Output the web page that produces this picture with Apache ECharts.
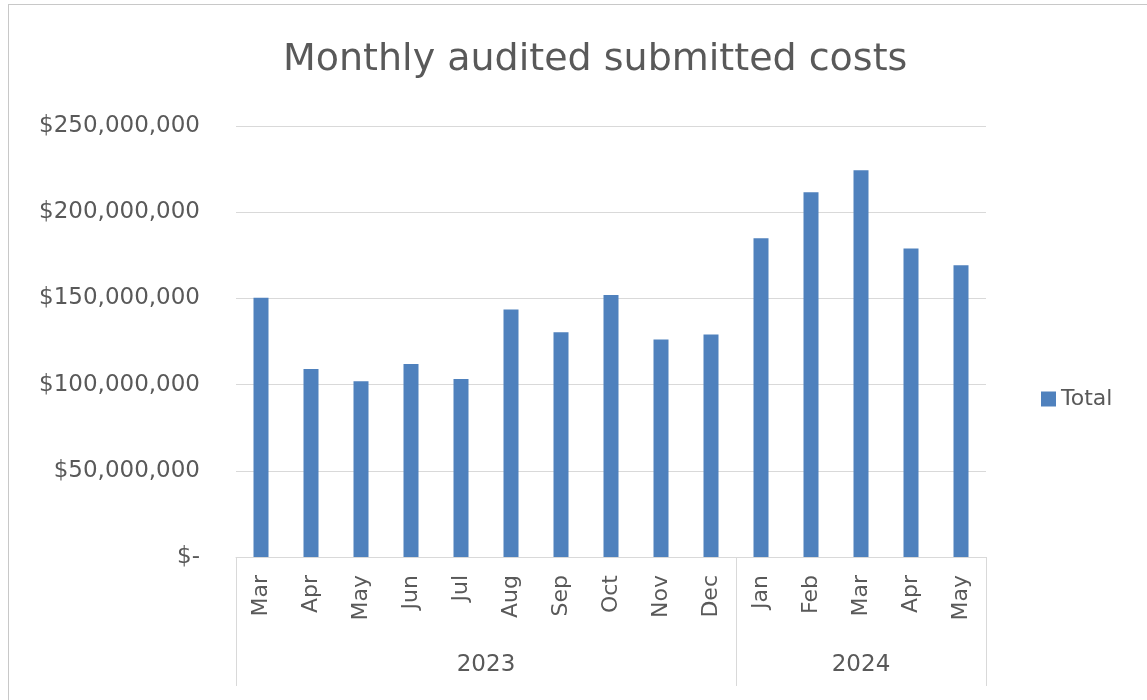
<!DOCTYPE html>
<html>
<head>
<meta charset="utf-8">
<script src="https://cdn.jsdelivr.net/npm/echarts@6/dist/echarts.min.js"></script>
<style>
  html, body { margin: 0; padding: 0; background: #fff; overflow: hidden; }
  #chart { position: absolute; left: 0; top: 0; width: 1147px; height: 700px; }
  #frame { position: absolute; left: 8px; top: 4px; width: 1160px; height: 720px;
           border: 1px solid #c8c8c8; pointer-events: none; }
</style>
</head>
<body>
<div id="chart"></div>
<div id="frame"></div>
<script>
// months per year group, values in dollars
var months = ['Mar', 'Apr', 'May', 'Jun', 'Jul', 'Aug', 'Sep', 'Oct', 'Nov', 'Dec',
              'Jan', 'Feb', 'Mar', 'Apr', 'May'];
var years = ['2023', '2024'];
var yearCounts = [10, 5];
var totals = [150400000, 109100000, 101900000, 112000000, 103300000, 143600000, 130400000,
              151900000, 126200000, 129100000, 184900000, 211600000, 224400000, 179000000, 169200000];

var textColor = '#595959';
var fontFam = 'DejaVu Sans, Liberation Sans, sans-serif';

// group boundaries and centers for the year level of the axis
var bounds = [0];
var centers = [];
yearCounts.forEach(function (n) {
    var start = bounds[bounds.length - 1];
    centers.push(start + n / 2);
    bounds.push(start + n);
});

function money(v) {
    if (v === 0) return '$-';
    return '$' + v.toString().replace(/\B(?=(\d{3})+(?!\d))/g, ',');
}

var chart = echarts.init(document.getElementById('chart'));
chart.setOption({
    animation: false,
    title: {
        text: 'Monthly audited submitted costs',
        left: 278,
        top: 36,
        textStyle: { color: textColor, fontFamily: fontFam, fontWeight: 'normal', fontSize: 38 }
    },
    legend: {
        orient: 'vertical',
        left: 1036,
        top: 383,
        icon: 'rect',
        itemWidth: 15,
        itemHeight: 15,
        itemGap: 8,
        textStyle: { color: textColor, fontFamily: fontFam, fontSize: 22 },
        data: ['Total']
    },
    grid: { left: 236, right: 161, top: 126, bottom: 143, containLabel: false },
    xAxis: [{
        type: 'category',
        data: months,
        axisLine: { lineStyle: { color: '#d9d9d9', width: 1 } },
        axisTick: { show: false },
        axisLabel: { rotate: 90, margin: 18, color: textColor, fontFamily: fontFam, fontSize: 22 }
    }, {
        type: 'value',
        position: 'bottom',
        min: 0,
        max: months.length,
        axisLine: { show: false },
        splitLine: { show: false },
        axisTick: {
            show: true,
            customValues: bounds,
            length: 129,
            lineStyle: { color: '#d9d9d9' }
        },
        axisLabel: {
            customValues: centers,
            margin: 97,
            color: textColor,
            fontFamily: fontFam,
            fontSize: 23,
            formatter: function (v) { return years[centers.indexOf(v)]; }
        }
    }],
    yAxis: {
        type: 'value',
        min: 0,
        max: 250000000,
        interval: 50000000,
        axisLine: { show: false },
        axisTick: { show: false },
        splitLine: { lineStyle: { color: '#d9d9d9', width: 1 } },
        axisLabel: { margin: 36, color: textColor, fontFamily: fontFam, fontSize: 23, formatter: money }
    },
    series: [{
        name: 'Total',
        type: 'bar',
        xAxisIndex: 0,
        barWidth: '30%',
        itemStyle: { color: '#4f81bd' },
        data: totals
    }]
});
</script>
</body>
</html>
